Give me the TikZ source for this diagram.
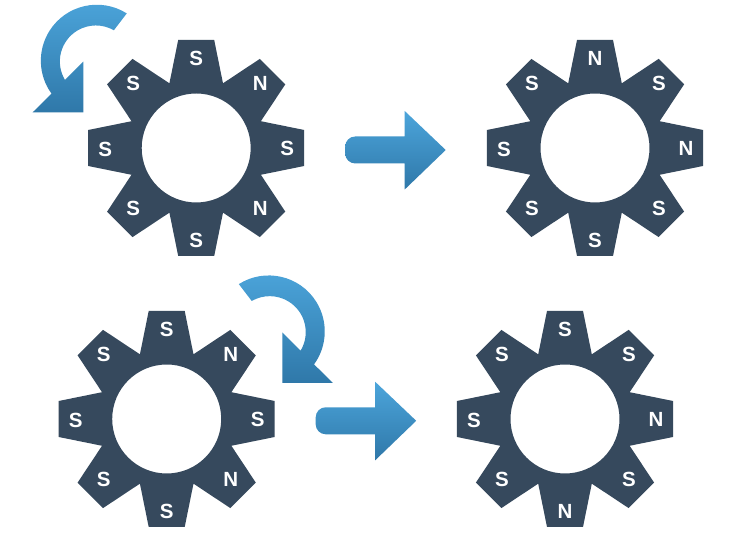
\documentclass[tikz,border=0pt]{standalone}
\usepackage{fontspec}
\setmainfont{Liberation Sans}
\definecolor{gearblue}{HTML}{36495D}
\definecolor{arrowtop}{HTML}{4CA5DB}
\definecolor{arrowbot}{HTML}{2F78A9}
\tikzset{
  maglabel/.style={text=white,font=\fontsize{20.5}{20.5}\selectfont\bfseries,inner sep=0pt},
  arrowshade/.style={top color=arrowtop,bottom color=arrowbot,draw=none},
}
% \gearat{name}{px x}{py}{8 labels clockwise from top}
\newcommand{\gearat}[9]{%
  \begin{scope}[shift={(#2,{534-#3})}]
    \fill[gearblue,even odd rule]
      (99.46:109.5pt)
      \foreach \a in {0,-45,...,-315}{
        -- ({\a+99.46}:109.5pt) -- ({\a+80.54}:109.5pt) -- ({\a+67.5}:70pt)
      } -- cycle
      (0,0) circle[radius=54.5pt];
    \node[maglabel] (#1a) at (0,90) {#4};
    \node[maglabel] (#1b) at (64,65) {#5};
    \node[maglabel] (#1c) at (91,0) {#6};
    \node[maglabel] (#1d) at (64,-60) {#7};
    \node[maglabel] (#1e) at (0,-92) {#8};
    \node[maglabel] (#1f) at (-63,-60) {#9};
    \gearrest{#1}%
  \end{scope}}
\newcommand{\gearrest}[1]{\node[maglabel] (#1g) at (-91,-1) {S};\node[maglabel] (#1h) at (-63,65) {S};}
\newcommand{\curvedarrow}{%
  % drawn about the circle centre
  \shade[arrowshade]
    (57.7:55.7) arc[start angle=57.7,end angle=216,radius=56]
    -- (-64.3,-51.8) -- (-13.7,-51.8) -- (-13.7,-1.2) -- (-32,-19.5)
    arc[start angle=211,end angle=60,radius=36] -- cycle;}
\newcommand{\straightarrow}[2]{%
  \shade[arrowshade,shift={(#1,{534-#2})}]
    (10,13.5) -- (59.5,13.5) -- (59.5,39) -- (100.5,0) -- (59.5,-39.5) -- (59.5,-13.5)
    -- (10,-13.5) arc[start angle=270,end angle=180,radius=10] -- (0,3.5)
    arc[start angle=180,end angle=90,radius=10] -- cycle;}
\begin{document}
\begin{tikzpicture}[x=1pt,y=1pt]
  \useasboundingbox (0,0) rectangle (750,534);
  \fill[white] (0,0) rectangle (750,534);
  \gearat{ga}{196.2}{148}{S}{N}{S}{N}{S}{S}
  \gearat{gb}{595}{148}{N}{S}{N}{S}{S}{S}
  \gearat{gc}{166.7}{419}{S}{N}{S}{N}{S}{S}
  \gearat{gd}{565}{419}{S}{S}{N}{S}{N}{S}
  \begin{scope}[shift={(97,{534-60.5})}]
    \curvedarrow
  \end{scope}
  \begin{scope}[shift={(268.6,{534-331.2})},xscale=-1]
    \curvedarrow
  \end{scope}
  \straightarrow{345.2}{150}
  \straightarrow{315.7}{420.8}
\end{tikzpicture}
\end{document}
